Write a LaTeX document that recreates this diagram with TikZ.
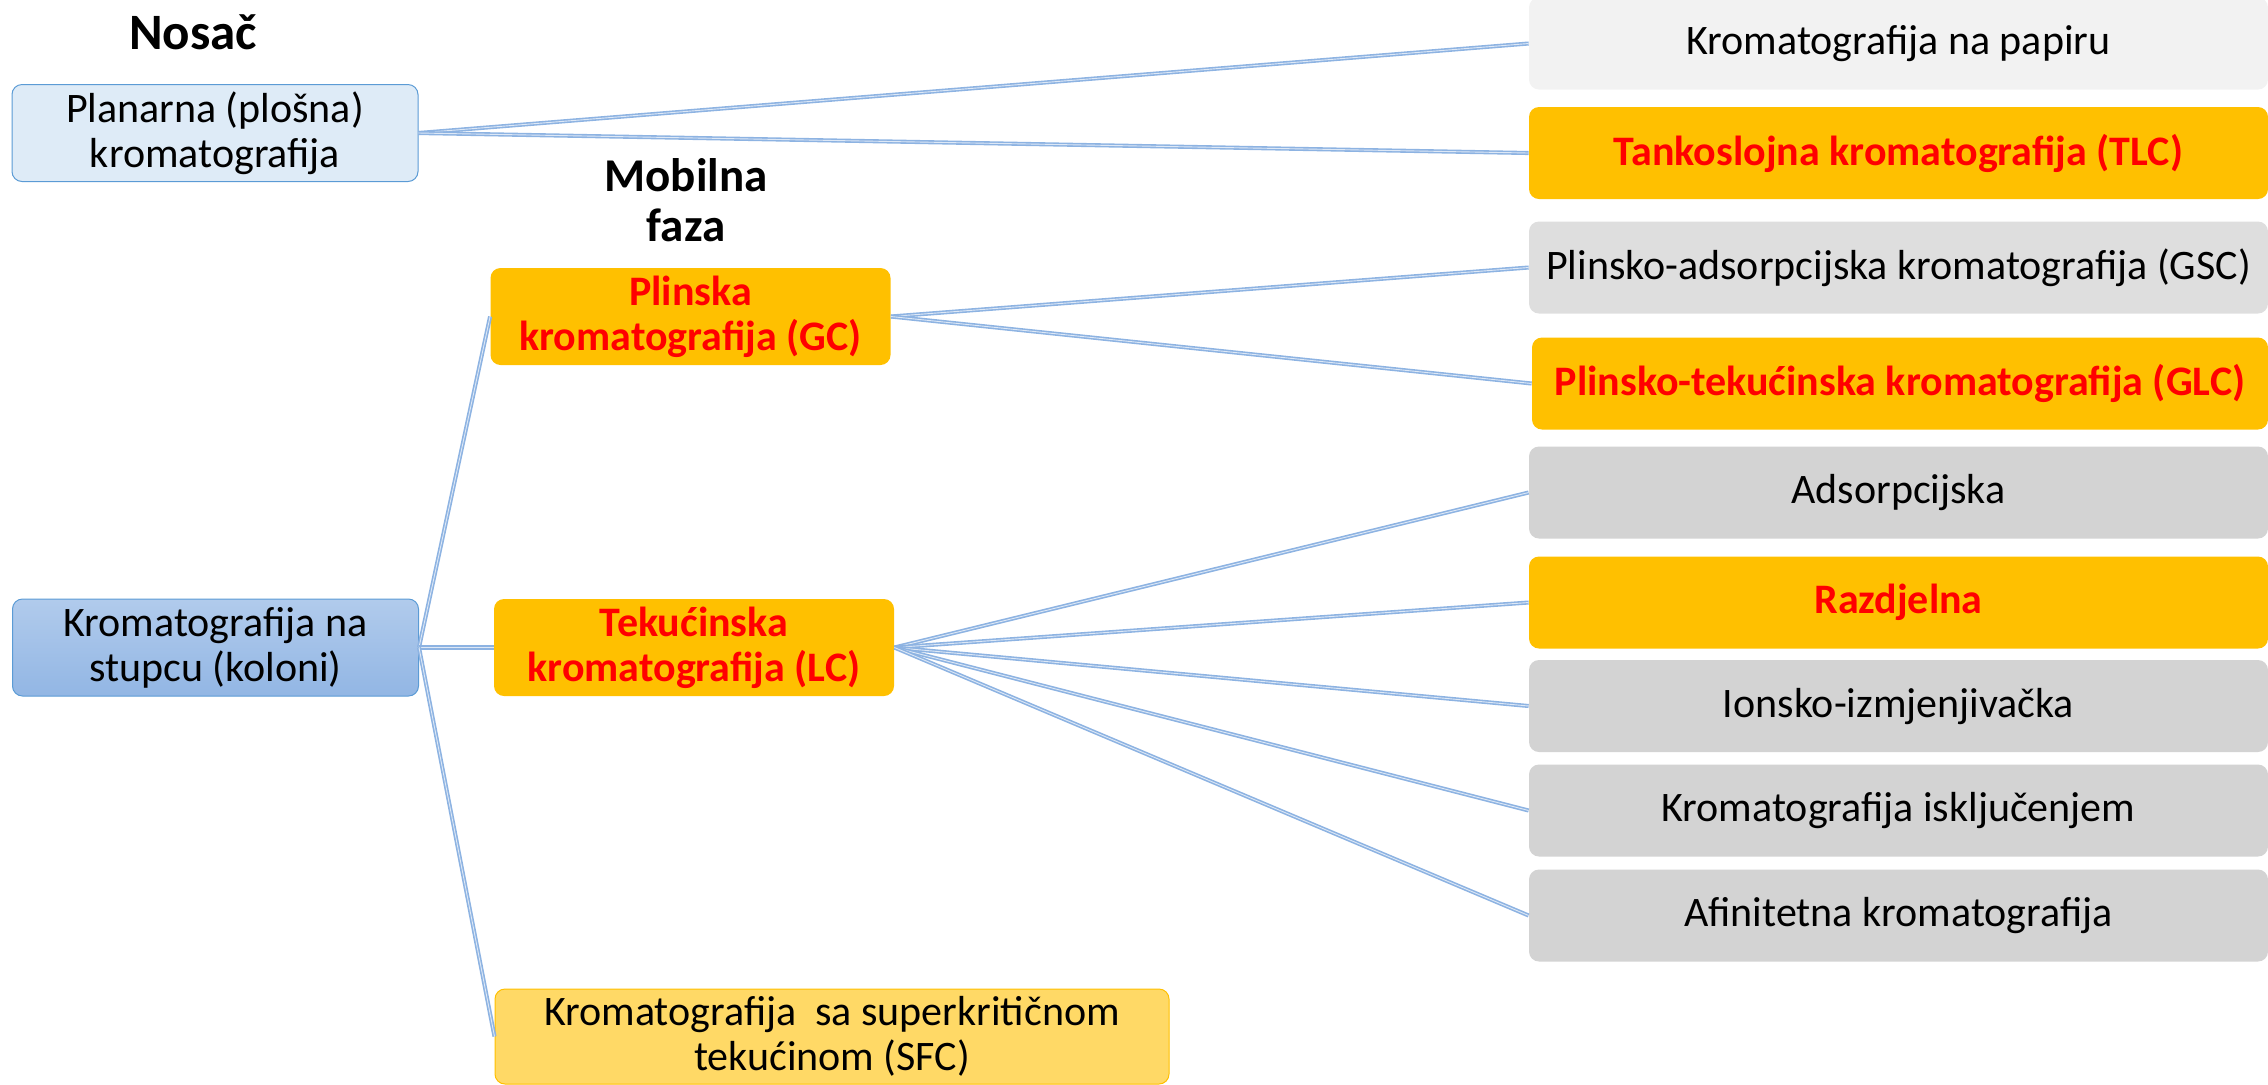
\documentclass[tikz,border=0pt]{standalone}
\usepackage{fontspec}
\setmainfont{Carlito}
\definecolor{amber}{HTML}{FFC000}
\definecolor{paleamber}{HTML}{FFD966}
\definecolor{linkblue}{HTML}{8DB3E2}
\definecolor{edgeblue}{HTML}{5B9BD5}
\definecolor{paleblue}{HTML}{DEEBF7}
\definecolor{stuptop}{HTML}{B1CBEC}
\definecolor{stupbottom}{HTML}{92B6E4}
\definecolor{leafgray}{HTML}{D3D3D3}
\tikzset{
box/.style={rounded corners=5pt, align=center, inner sep=0pt,
	font=\fontsize{21}{22.5}\selectfont},
hot/.style={box, fill=amber, text=red,
	font=\fontsize{21}{22.5}\selectfont\bfseries},
leaf/.style={box, minimum width=369.5pt, minimum height=46pt},
grayleaf/.style={leaf, fill=leafgray},
hotleaf/.style={hot, minimum width=369.5pt, minimum height=46pt},
rootbox/.style={box, draw=edgeblue, line width=0.5pt,
	minimum width=203pt, minimum height=48.5pt},
phasebox/.style={hot, minimum width=200pt, minimum height=48.5pt},
heading/.style={align=center, font=\fontsize{23.5}{25}\selectfont\bfseries},
link/.style={draw=linkblue, double=white!70!linkblue, line width=0.8pt,
	double distance=0.45pt}
}
\begin{document}
\begin{tikzpicture}[x=0.5pt, y=-0.5pt]
	\useasboundingbox (0,0) rectangle (2268,1084);
	\node[heading, font=\fontsize{25.5}{27}\selectfont\bfseries] (nosac)
		at (193,32) {Nosač};
	\node[heading] (mobilna) at (686,200) {Mobilna\\faza};
	\node[rootbox, fill=paleblue] (planarna) at (215,133)
		{Planarna (plošna)\\kromatografija};
	\node[rootbox, top color=stuptop, bottom color=stupbottom]
		(stupac) at (215.5,647.5) {Kromatografija na\\stupcu (koloni)};
	\node[phasebox] (gc) at (690.5,316.5) {Plinska\\kromatografija (GC)};
	\node[phasebox] (lc) at (694,647.5) {Tekućinska\\kromatografija (LC)};
	\node[box, fill=paleamber, draw=amber, line width=0.5pt,
		minimum width=337pt, minimum height=47.5pt] (sfc) at (832,1036.5)
		{Kromatografija\ \ sa superkritičnom\\tekućinom (SFC)};
	\node[leaf, fill=black!5] (papir) at (1898.5,43.5) {Kromatografija na papiru};
	\node[hotleaf] (tlc) at (1898.5,153) {Tankoslojna kromatografija (TLC)};
	\node[leaf, fill=black!13] (gsc) at (1898.5,267.5)
		{Plinsko-adsorpcijska kromatografija (GSC)};
	\node[hotleaf, minimum width=368pt] (glc) at (1900,383.5)
		{Plinsko-tekućinska kromatografija (GLC)};
	\node[grayleaf] (ads) at (1898.5,492.5) {Adsorpcijska};
	\node[hotleaf] (razd) at (1898.5,602.5) {Razdjelna};
	\node[grayleaf] (ion) at (1898.5,706) {Ionsko-izmjenjivačka};
	\node[grayleaf] (iskl) at (1898.5,810.5) {Kromatografija isključenjem};
	\node[grayleaf] (afin) at (1898.5,915.5) {Afinitetna kromatografija};

	\draw[link] (planarna.east) -- (papir.west);
	\draw[link] (planarna.east) -- (tlc.west);
	\draw[link] (stupac.east) -- (gc.west);
	\draw[link] (stupac.east) -- (lc.west);
	\draw[link] (stupac.east) -- (sfc.west);
	\draw[link] (gc.east) -- (gsc.west);
	\draw[link] (gc.east) -- (glc.west);
	\foreach \leafname in {ads,razd,ion,iskl,afin}
		\draw[link] (lc.east) -- (\leafname.west);
\end{tikzpicture}
\end{document}
